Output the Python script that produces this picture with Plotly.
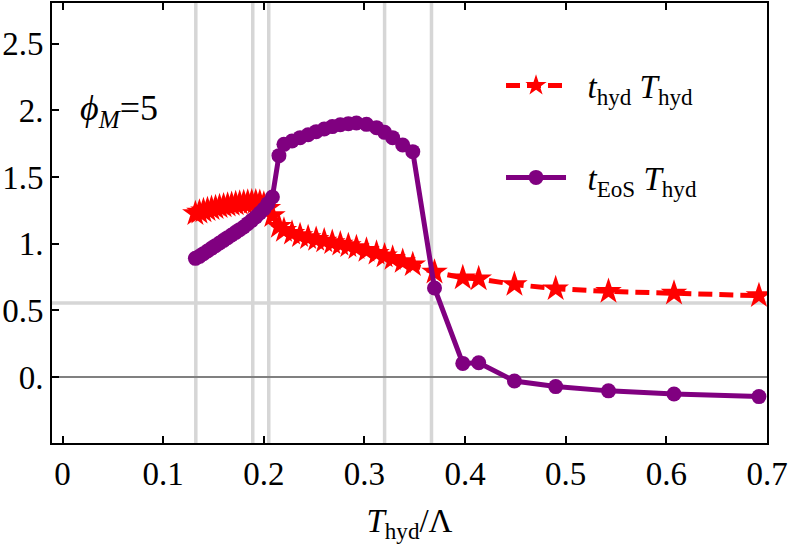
import plotly.graph_objects as go

# ---- data ----
T_over_Lambda = [0.132, 0.136, 0.140, 0.144, 0.148, 0.152, 0.156, 0.160, 0.164, 0.168,
                 0.172, 0.176, 0.180, 0.184, 0.188, 0.192, 0.196, 0.200, 0.204, 0.2085,
                 0.215, 0.220, 0.228, 0.236, 0.244, 0.252, 0.260, 0.268, 0.276, 0.284,
                 0.292, 0.302, 0.312, 0.320, 0.328, 0.338, 0.348, 0.3696, 0.3977, 0.4135,
                 0.449, 0.490, 0.5425, 0.6076, 0.692]

t_hyd_T_hyd = [1.225, 1.236, 1.246, 1.255, 1.263, 1.270, 1.277, 1.283, 1.289, 1.294,
               1.299, 1.303, 1.307, 1.310, 1.312, 1.312, 1.308, 1.295, 1.265, 1.21,
               1.13, 1.10, 1.078, 1.060, 1.045, 1.032, 1.020, 1.008, 0.997, 0.985,
               0.970, 0.950, 0.928, 0.908, 0.890, 0.866, 0.842, 0.786, 0.744, 0.736,
               0.694, 0.662, 0.642, 0.629, 0.610]

t_EoS_T_hyd = [0.890, 0.905, 0.925, 0.945, 0.965, 0.985, 1.005, 1.025, 1.045, 1.065,
               1.085, 1.105, 1.125, 1.150, 1.175, 1.200, 1.230, 1.260, 1.300, 1.350,
               1.660, 1.745, 1.770, 1.795, 1.817, 1.840, 1.860, 1.878, 1.892, 1.900,
               1.905, 1.895, 1.870, 1.835, 1.795, 1.740, 1.690, 0.667, 0.102, 0.107,
               -0.030, -0.072, -0.104, -0.127, -0.147]

vertical_lines_x = [0.1324, 0.189, 0.2049, 0.320, 0.3666]
horizontal_line_y = 0.555

x_tickvals = [0, 0.1, 0.2, 0.3, 0.4, 0.5, 0.6, 0.7]
x_ticktext = ["0", "0.1", "0.2", "0.3", "0.4", "0.5", "0.6", "0.7"]
y_tickvals = [0, 0.5, 1.0, 1.5, 2.0, 2.5]
y_ticktext = ["0.", "0.5", "1.", "1.5", "2.", "2.5"]

FONT = "Liberation Serif"
FS = 33
NB = "\u00a0\u00a0"

fig = go.Figure()

fig.add_trace(go.Scatter(
    x=T_over_Lambda, y=t_hyd_T_hyd, mode="lines+markers",
    name=NB + "<i>t</i><sub>hyd</sub> <i>T</i><sub>hyd</sub>",
    legendgroup="a",
    line=dict(color="#ff0000", width=5, dash="14px,7px"),
    marker=dict(symbol="star", size=20, color="#ff0000", line=dict(width=0)),
))
fig.add_trace(go.Scatter(
    x=T_over_Lambda, y=t_EoS_T_hyd, mode="lines+markers",
    name=NB + "<i>t</i><sub>EoS</sub> <i>T</i><sub>hyd</sub>",
    legendgroup="b",
    line=dict(color="#800080", width=5),
    marker=dict(symbol="circle", size=15, color="#800080", line=dict(width=0)),
))

shapes = []
for xv in vertical_lines_x:
    shapes.append(dict(type="line", xref="x", yref="paper", x0=xv, x1=xv, y0=0, y1=1,
                       line=dict(color="#d6d6d6", width=3.5), layer="below"))
shapes.append(dict(type="line", xref="paper", yref="y", x0=0, x1=1,
                   y0=horizontal_line_y, y1=horizontal_line_y,
                   line=dict(color="#d6d6d6", width=3.5), layer="below"))
shapes.append(dict(type="line", xref="paper", yref="y", x0=0, x1=1, y0=0, y1=0,
                   line=dict(color="#808080", width=1.8), layer="below"))

fig.update_layout(
    width=792, height=546,
    margin=dict(l=52, r=25, t=1, b=103),
    paper_bgcolor="white", plot_bgcolor="white",
    font=dict(family=FONT, size=FS, color="black"),
    shapes=shapes,
    showlegend=True,
    legend=dict(x=0.628, y=0.876, xanchor="left", yanchor="top",
                bgcolor="rgba(0,0,0,0)", font=dict(family=FONT, size=FS),
                traceorder="grouped", tracegroupgap=46, itemwidth=60),
    annotations=[dict(xref="paper", yref="paper", x=0.036, y=0.756,
                      xanchor="left", yanchor="middle", showarrow=False,
                      text="<i>ϕ</i><sub><i>M</i></sub>=5",
                      font=dict(family=FONT, size=36))],
)

fig.update_xaxes(
    range=[-0.0105, 0.7], tickvals=x_tickvals, ticktext=x_ticktext,
    showgrid=False, zeroline=False,
    showline=True, linecolor="black", linewidth=2, mirror="ticks",
    ticks="inside", ticklen=7, tickwidth=1.5, tickcolor="black",
    tickfont=dict(family=FONT, size=FS),
    title=dict(text="<i>T</i><sub>hyd</sub>/Λ", font=dict(family=FONT, size=FS), standoff=18),
)
fig.update_yaxes(
    range=[-0.495, 2.805], tickvals=y_tickvals, ticktext=y_ticktext,
    showgrid=False, zeroline=False,
    showline=True, linecolor="black", linewidth=2, mirror=True,
    ticks="inside", ticklen=7, tickwidth=1.5, tickcolor="black",
    tickfont=dict(family=FONT, size=FS),
)

fig.write_html("out.html")
